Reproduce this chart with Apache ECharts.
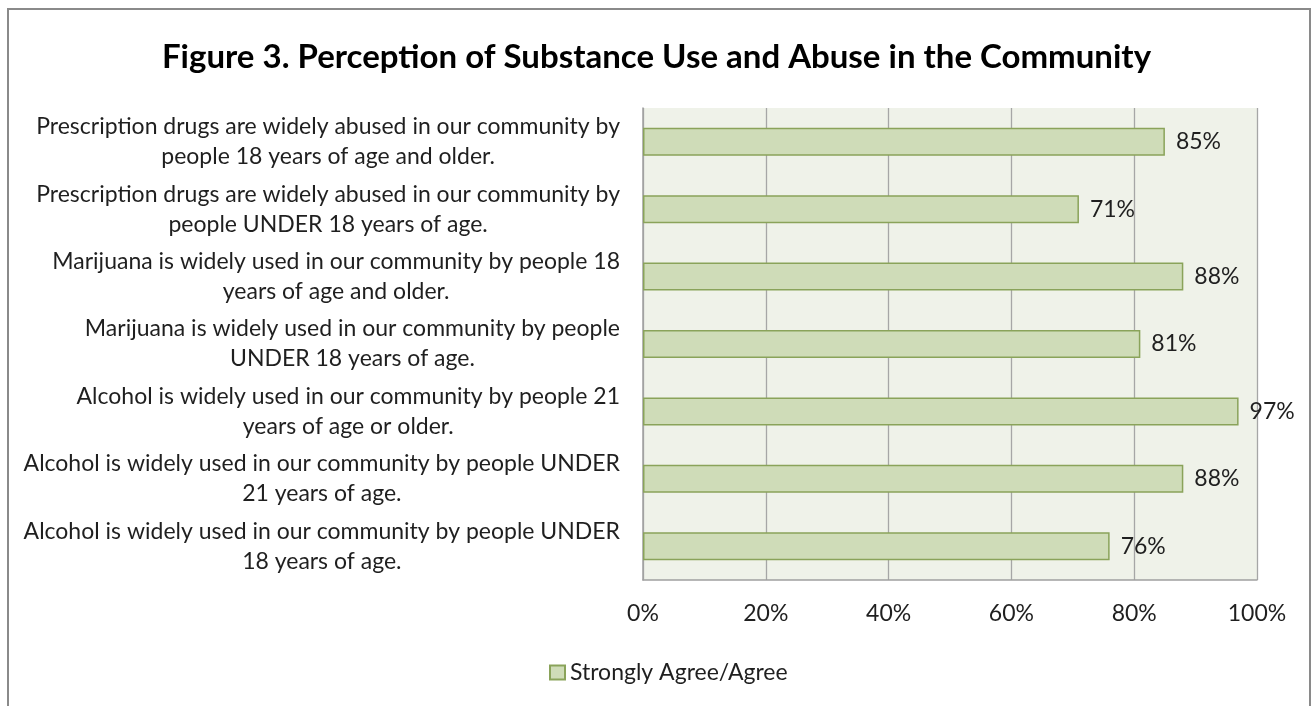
<!DOCTYPE html>
<html>
<head>
<meta charset="utf-8">
<script src="https://cdn.jsdelivr.net/npm/echarts@6/dist/echarts.min.js"></script>
<style>
html,body{margin:0;padding:0;background:#fff;}
#chart{width:1313px;height:706px;}
</style>
</head>
<body>
<div id="chart"></div>
<script>
const titleText = 'Figure 3. Perception of Substance Use and Abuse in the Community';
const categories = [
  'Prescription drugs are widely abused in our community by\npeople 18 years of age and older.',
  'Prescription drugs are widely abused in our community by\npeople UNDER 18 years of age.',
  'Marijuana is widely used in our community by people 18\nyears of age and older.',
  'Marijuana is widely used in our community by people\nUNDER 18 years of age.',
  'Alcohol is widely used in our community by people 21\nyears of age or older.',
  'Alcohol is widely used in our community by people UNDER\n21 years of age.',
  'Alcohol is widely used in our community by people UNDER\n18 years of age.'
];
const seriesName = 'Strongly Agree/Agree';
const values = [85, 71, 88, 81, 97, 88, 76];
const xTicks = [0, 20, 40, 60, 80, 100];

const FONT = 'Lato, Carlito, "Liberation Sans", sans-serif';
const TXT = '#1f1f1f';
const FS = 23;

const chart = echarts.init(document.getElementById('chart'));
chart.setOption({
  animation: false,
  backgroundColor: '#ffffff',
  graphic: [{
    type: 'rect', silent: true, z: 100,
    shape: { x: 8, y: 9, width: 1302, height: 740 },
    style: { fill: 'none', stroke: '#8a8a8a', lineWidth: 2 }
  }],
  title: {
    text: titleText,
    left: 'center', top: 36,
    textStyle: { fontFamily: FONT, fontWeight: 'bold', fontSize: 33, color: '#000' }
  },
  legend: {
    left: 544, top: 656,
    icon: 'rect', itemWidth: 15, itemHeight: 14, itemGap: 8,
    textStyle: { fontFamily: FONT, fontSize: FS, color: TXT },
    data: [seriesName]
  },
  grid: {
    left: 643, right: 56, top: 108, bottom: 126,
    show: true, backgroundColor: '#eff2e9', borderWidth: 0
  },
  xAxis: {
    type: 'value', min: 0, max: 100, interval: 20,
    axisLine: { show: true, lineStyle: { color: '#a0a0a0', width: 1.5 } },
    axisTick: { show: false },
    splitLine: { show: true, lineStyle: { color: '#a6a6a6', width: 1.3 } },
    axisLabel: {
      margin: 22,
      fontFamily: FONT, fontSize: FS, color: TXT,
      formatter: v => xTicks.includes(v) ? v + '%' : ''
    }
  },
  yAxis: {
    type: 'category', inverse: true,
    data: categories,
    axisLine: { show: true, lineStyle: { color: '#a0a0a0', width: 1.5 } },
    axisTick: { show: false },
    axisLabel: {
      margin: 23, align: 'right',
      fontFamily: FONT, fontSize: FS, color: TXT, lineHeight: 30,
      formatter: s => s.split('\n').map(l => '{c|' + l + '}').join('\n'),
      rich: { c: { align: 'center', fontFamily: FONT, fontSize: FS, color: TXT, lineHeight: 30 } }
    }
  },
  series: [{
    name: seriesName,
    type: 'bar',
    data: values,
    barWidth: 28,
    itemStyle: { color: '#cfdcb8', borderColor: '#8aa35a', borderWidth: 1.5 },
    label: {
      show: true, position: 'right', distance: 11,
      fontFamily: FONT, fontSize: FS, color: TXT,
      formatter: p => p.value + '%'
    }
  }]
});
</script>
</body>
</html>
